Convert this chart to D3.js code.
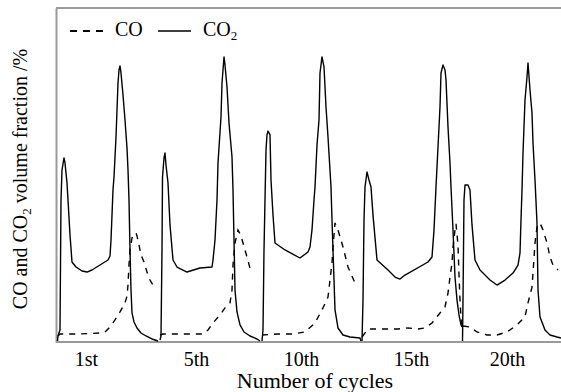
<!DOCTYPE html>
<html>
<head>
<meta charset="utf-8">
<script src="https://cdn.jsdelivr.net/npm/d3@7"></script>
<style>
  html, body { margin: 0; padding: 0; background: #fff; }
  svg { display: block; }
  svg text { font-family: 'Liberation Serif', Tinos, 'DejaVu Serif', serif !important; fill: #000; }
</style>
</head>
<body>
<svg id="chart" width="561" height="392"></svg>
<script>
// ---- data (time in min, value in volume %) ----
const tickPositions = [29, 139, 244, 354, 450];
const tickLabels = ["1st", "5th", "10th", "15th", "20th"];
const seriesNames = ["CO", "CO2"];

const co2Cycle1 = [[0.5,0.06],[1,0.36],[3,0.72],[4,8.50],[5,10.30],[7,11.02],[8,10.72],[10,9.52],[11,8.50],[13,6.41],[15,4.79],[19,4.49],[25,4.25],[30,4.19],[35,4.31],[43,4.61],[51,4.91],[53,5.15],[54,6.11],[55,7.60],[56,9.10],[57,9.88],[59,12.28],[60,13.89],[61,15.51],[62,16.29],[63,16.53],[64,16.11],[66,14.79],[68,13.29],[70,11.62],[71,10.30],[72,8.50],[73,5.51],[74,3.11],[75,1.74],[77,1.20],[80,0.84],[84,0.54],[89,0.36],[95,0.18],[101,0.06]];
const co2Cycle2 = [[103,0.12],[104,0.36],[105,5.51],[105.5,9.88],[107,11.02],[108,11.32],[109,10.60],[111,9.52],[113,7.01],[116,4.91],[120,4.49],[130,4.19],[143,4.43],[155,4.49],[156,4.91],[158,6.11],[160,8.50],[161,10.72],[164,13.47],[165,15.51],[167,17.07],[168,16.59],[170,15.27],[172,13.11],[175,11.08],[176,9.10],[177,6.11],[178,3.11],[180,1.80],[183,1.02],[187,0.60],[193,0.36],[200,0.18],[203,0.06]];
const co2Cycle3 = [[205,0.06],[206,0.72],[207,5.51],[209,11.50],[210,12.40],[211,12.63],[213,12.40],[214,9.70],[216,7.60],[218,5.93],[228,5.51],[243,5.03],[251,5.39],[253,5.69],[255,6.71],[257,8.50],[258,9.28],[260,11.80],[262,13.29],[263,16.11],[265,17.07],[267,16.47],[269,14.07],[271,12.28],[274,9.28],[275,7.31],[277,3.71],[278,1.92],[281,0.84],[286,0.42],[293,0.30],[303,0.24],[304,0.06]];
const co2Cycle4 = [[305,0.06],[306,2.51],[307,7.31],[308,9.28],[310,10.18],[312,9.70],[314,9.28],[316,7.60],[320,4.91],[331,4.31],[338,3.89],[343,3.77],[348,4.01],[371,4.79],[375,5.09],[377,6.71],[379,9.28],[381,11.68],[383,14.07],[384,16.11],[386,16.59],[388,16.29],[389,15.69],[391,12.87],[393,10.72],[394,9.28],[396,6.71],[398,3.89],[400,2.51],[402,1.62],[404,1.02],[405,0.90]];
const co2Cycle5 = [[405.5,0.06],[406,2.51],[407,8.50],[408,9.40],[411,9.40],[413,9.10],[415,7.01],[418,4.91],[423,4.31],[433,3.71],[440,3.41],[448,3.71],[456,4.13],[461,4.61],[463,5.33],[464,7.31],[465,9.10],[466,11.32],[468,14.49],[470,15.87],[471,16.71],[473,15.09],[475,13.71],[476,11.92],[478,9.70],[480,7.13],[481,3.11],[483,1.50],[488,0.72],[493,0.42],[500,0.30],[504,0.24]];

const coCycle1 = [[1,0.36],[3,0.48],[23,0.48],[43,0.54],[48,0.60],[53,0.90],[58,1.32],[63,1.80],[68,2.34],[70,2.75],[71,3.41],[72,4.61],[73,5.51],[75,6.23],[77,6.47],[79,6.53],[80,6.35],[82,5.81],[84,5.21],[87,4.79],[90,4.19],[93,3.71],[96,3.41]];
const coCycle2 = [[103,0.42],[106,0.48],[146,0.48],[151,0.72],[156,1.14],[163,1.62],[168,2.04],[173,2.34],[175,3.11],[176,4.61],[178,5.93],[181,6.71],[184,6.35],[186,5.93],[190,5.09],[194,4.19]];
const coCycle3 = [[205,0.42],[221,0.48],[235,0.48],[248,0.60],[258,1.14],[266,2.04],[271,2.69],[273,3.71],[275,4.73],[276,5.69],[278,7.13],[281,6.71],[286,5.69],[291,4.49],[298,3.53]];
const coCycle4 = [[305,0.30],[311,0.78],[328,0.78],[341,0.78],[351,0.84],[361,0.78],[368,0.84],[375,1.14],[383,1.74],[388,2.10],[391,2.93],[393,3.89],[395,4.73],[396,5.69],[398,6.71],[399,7.07],[401,5.81],[402,4.01],[403,2.51],[404,1.44],[405,1.02]];
const coCycle5 = [[406,0.96],[413,0.90],[420,0.60],[430,0.42],[440,0.42],[450,0.60],[460,1.02],[468,1.50],[471,2.34],[475,3.29],[476,4.13],[478,5.93],[480,6.89],[483,7.13],[486,6.71],[490,5.93],[493,5.09],[496,4.61],[501,4.31]];

const co2Cycles = [co2Cycle1, co2Cycle2, co2Cycle3, co2Cycle4, co2Cycle5];
const coCycles = [coCycle1, coCycle2, coCycle3, coCycle4, coCycle5];

(function () {
  const FONT = "'Liberation Serif', Tinos, 'DejaVu Serif', serif";
  const svg = d3.select("#chart").style("font-family", FONT);
  const mLeft = 56, mRight = 561, mTop = 8, mBottom = 342;
  const x = d3.scaleLinear().domain([0, 504]).range([mLeft + 1, mRight]);
  const y = d3.scaleLinear().domain([0, 20]).range([mBottom, mTop]);
  const frameColor = "#9a9a9a";

  svg.append("line").attr("x1", mLeft).attr("x2", mRight).attr("y1", mTop).attr("y2", mTop)
    .attr("stroke", frameColor).attr("stroke-width", 2);

  const xAxis = svg.append("g").attr("transform", `translate(0,${mBottom})`)
    .call(d3.axisBottom(x).tickValues(tickPositions)
      .tickFormat((d, i) => tickLabels[i]).tickSize(0).tickSizeOuter(0).tickPadding(10));
  xAxis.attr("font-family", null).attr("font-size", null).style("font-family", FONT);
  xAxis.select(".domain").attr("stroke", frameColor).attr("stroke-width", 2)
    .attr("d", `M${mLeft},0H${mRight}`);
  xAxis.selectAll("text").style("font-size", "20px").style("font-family", FONT);

  const yAxis = svg.append("g").attr("transform", `translate(${mLeft},0)`)
    .call(d3.axisLeft(y).tickValues([]).tickSize(0).tickSizeOuter(0));
  yAxis.select(".domain").attr("stroke", frameColor).attr("stroke-width", 2);

  const line = d3.line().x(d => x(d[0])).y(d => y(d[1]));
  const plot = svg.append("g");
  coCycles.forEach(c => {
    plot.append("path").attr("d", line(c)).attr("fill", "none")
      .attr("stroke", "#000").attr("stroke-width", 1.4).attr("stroke-dasharray", "6,6");
  });
  co2Cycles.forEach(c => {
    plot.append("path").attr("d", line(c)).attr("fill", "none")
      .attr("stroke", "#000").attr("stroke-width", 1.4).attr("stroke-linejoin", "round");
  });

  const lg = svg.append("g");
  lg.append("line").attr("x1", 70).attr("x2", 108).attr("y1", 31).attr("y2", 31)
    .attr("stroke", "#000").attr("stroke-width", 2).attr("stroke-dasharray", "7,6");
  lg.append("text").attr("x", 115).attr("y", 36).style("font-size", "20px").text(seriesNames[0]);
  lg.append("line").attr("x1", 158).attr("x2", 191).attr("y1", 31).attr("y2", 31)
    .attr("stroke", "#000").attr("stroke-width", 1.5);
  const t2 = lg.append("text").attr("x", 203).attr("y", 36).style("font-size", "20px");
  t2.append("tspan").text("CO");
  t2.append("tspan").style("font-size", "13px").attr("dy", 4).text("2");

  svg.append("text").attr("x", 315).attr("y", 388).attr("text-anchor", "middle")
    .style("font-size", "22px").text("Number of cycles");
  const yt = svg.append("text").attr("transform", "rotate(-90)")
    .attr("x", -179).attr("y", 27).attr("text-anchor", "middle").style("font-size", "20px");
  yt.append("tspan").text("CO and CO");
  yt.append("tspan").style("font-size", "13px").attr("dy", 4).text("2");
  yt.append("tspan").attr("dy", -4).text(" volume fraction /%");
})();
</script>
</body>
</html>
